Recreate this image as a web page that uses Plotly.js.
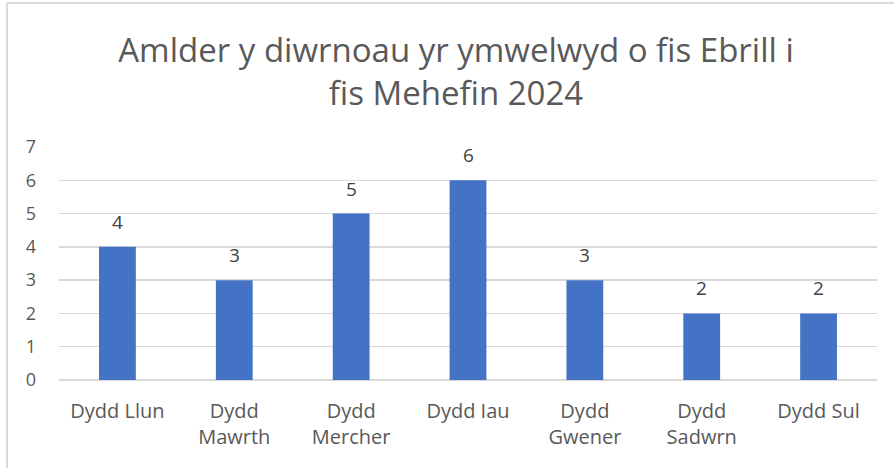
<!DOCTYPE html>
<html>
<head>
<meta charset="utf-8">
<script src="https://cdn.plot.ly/plotly-3.0.1.min.js"></script>
<style>html,body{margin:0;padding:0;background:#fff;}#chart{width:894px;height:468px;}</style>
</head>
<body>
<div id="chart"></div>
<script>
const categories = ["Dydd Llun", "Dydd Mawrth", "Dydd Mercher", "Dydd Iau", "Dydd Gwener", "Dydd Sadwrn", "Dydd Sul"];
const tickLabels = ["Dydd Llun", "Dydd<br>Mawrth", "Dydd<br>Mercher", "Dydd Iau", "Dydd<br>Gwener", "Dydd<br>Sadwrn", "Dydd Sul"];
const values = [4, 3, 5, 6, 3, 2, 2];
const yTicks = [0, 1, 2, 3, 4, 5, 6, 7];
const titleText = "Amlder y diwrnoau yr ymwelwyd o fis Ebrill i<br>fis Mehefin 2024";

const textColor = "#595959";
const fontFam = "'Open Sans', sans-serif";

const trace = {
  type: "bar",
  x: categories,
  y: values,
  marker: {color: "#4472c4"},
  hoverinfo: "x+y"
};

const labelAnnotations = categories.map((c, i) => ({
  x: c, y: values[i], xref: "x", yref: "y",
  text: String(values[i]), showarrow: false,
  yanchor: "bottom", yshift: 10,
  font: {family: fontFam, size: 19, color: "#404040"}
}));

const layout = {
  width: 894, height: 468,
  margin: {l: 59, r: 17, t: 147, b: 88},
  paper_bgcolor: "#fff", plot_bgcolor: "#fff",
  bargap: 0.685,
  showlegend: false,
  title: {
    text: titleText,
    x: 456/894, xref: "container", xanchor: "center",
    y: 1 - 62/468, yref: "container", yanchor: "middle",
    font: {family: fontFam, size: 33, color: textColor}
  },
  xaxis: {
    tickvals: categories, ticktext: tickLabels,
    showgrid: false, zeroline: false, showline: false,
    ticks: "", ticklabelstandoff: 17,
    tickfont: {family: fontFam, size: 20, color: textColor}
  },
  yaxis: {
    range: [0, 7], tickvals: yTicks,
    showgrid: true, gridcolor: "#d9d9d9", gridwidth: 1.5,
    zeroline: true, zerolinecolor: "#d9d9d9", zerolinewidth: 1.5,
    showline: false, ticks: "", ticklabelstandoff: 22,
    tickfont: {family: fontFam, size: 18, color: textColor}
  },
  annotations: labelAnnotations,
  shapes: [
    {type: "line", xref: "paper", yref: "paper", x0: (7-59)/818, x1: 1.03, y0: (380-3)/233, y1: (380-3)/233, line: {color: "#d9d9d9", width: 2}},
    {type: "line", xref: "paper", yref: "paper", x0: (7-59)/818, x1: (7-59)/818, y0: (380-3)/233, y1: -0.5, line: {color: "#d9d9d9", width: 2}}
  ]
};

Plotly.newPlot("chart", [trace], layout, {displayModeBar: false, staticPlot: true});
</script>
</body>
</html>
